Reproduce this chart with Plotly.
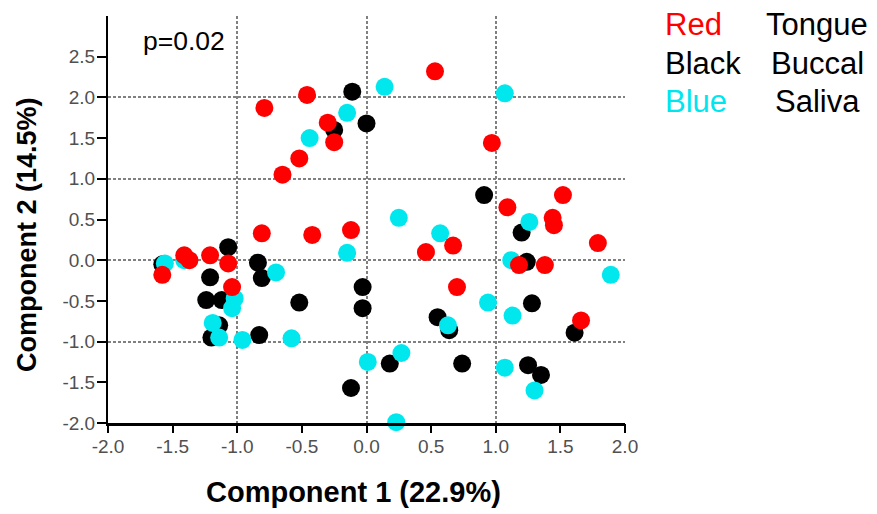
import plotly.graph_objects as go

# ---- data ----
tongue_x = [-0.79, -0.46, 0.53, -0.30, -0.25, -0.52, -0.65, 0.97, 1.52, 1.09, 1.44, 1.45, 1.79,
            -0.81, -0.42, -0.12, 0.46, 0.67, 1.18, 1.38, 0.70, 1.66, -1.58, -1.41, -1.37, -1.21,
            -1.07, -1.04]
tongue_y = [1.87, 2.03, 2.32, 1.69, 1.45, 1.25, 1.05, 1.44, 0.80, 0.65, 0.52, 0.43, 0.21,
            0.33, 0.31, 0.37, 0.10, 0.18, -0.06, -0.06, -0.33, -0.74, -0.18, 0.06, 0.00, 0.06,
            -0.04, -0.33]

buccal_x = [-0.11, -0.25, 0.00, 0.91, 1.20, 1.24, 1.28, 0.55, 0.64, 1.61, 0.74, 1.25, 1.35,
            -0.03, -0.03, -0.52, 0.18, -0.12, -1.07, -1.21, -0.84, -0.81, -1.24, -1.12, -1.14,
            -1.20, -0.83, -1.58]
buccal_y = [2.07, 1.60, 1.68, 0.80, 0.34, -0.02, -0.53, -0.70, -0.86, -0.89, -1.27, -1.29, -1.41,
            -0.33, -0.59, -0.52, -1.27, -1.57, 0.16, -0.21, -0.03, -0.22, -0.49, -0.49, -0.80,
            -0.95, -0.92, -0.05]

saliva_x = [0.14, -0.15, -0.44, 1.07, 0.25, 0.57, 1.26, -0.15, 1.12, 1.89, -1.56, -0.70, -1.02,
            -1.04, -1.19, -1.14, -0.96, -0.58, 0.94, 1.13, 0.63, 0.01, 0.27, 1.07, 1.30, 0.23,
            -1.41]
saliva_y = [2.13, 1.81, 1.50, 2.05, 0.52, 0.33, 0.47, 0.09, 0.00, -0.18, -0.04, -0.15, -0.47,
            -0.59, -0.77, -0.95, -0.98, -0.96, -0.52, -0.68, -0.80, -1.25, -1.14, -1.32, -1.60, -1.99,
            0.00]

tick_vals = [-2.0, -1.5, -1.0, -0.5, 0.0, 0.5, 1.0, 1.5, 2.0]
y_tick_vals = [-2.0, -1.5, -1.0, -0.5, 0.0, 0.5, 1.0, 1.5, 2.0, 2.5]
grid_vals = [-1, 0, 1, 2]

legend_colors = ["Red", "Black", "Blue"]
legend_groups = ["Tongue", "Buccal", "Saliva"]
legend_font_colors = ["#ff0000", "#000000", "#00e5ee"]

p_text = "p=0.02"
x_title = "Component 1 (22.9%)"
y_title = "Component 2 (14.5%)"

# ---- layout geometry (screen px; page body has an 8px margin) ----
O = 8
W, H = 877 - O, 514 - O
L, R, T, B = 108, 625, 16, 423          # plot area in screen px
pw, ph = R - L, B - T


def px(xp):
    return (xp - L) / pw


def py(yp):
    return (B - yp) / ph


fig = go.Figure()
mk = dict(size=18, line=dict(width=0))
fig.add_trace(go.Scatter(x=buccal_x, y=buccal_y, mode="markers", name="Buccal",
                         marker=dict(color="#000000", **mk), cliponaxis=False))
fig.add_trace(go.Scatter(x=saliva_x, y=saliva_y, mode="markers", name="Saliva",
                         marker=dict(color="#00e8ee", **mk), cliponaxis=False))
fig.add_trace(go.Scatter(x=tongue_x, y=tongue_y, mode="markers", name="Tongue",
                         marker=dict(color="#ff0000", **mk), cliponaxis=False))
# empty helper trace so the labelled overlay axes get drawn
fig.add_trace(go.Scatter(x=[None], y=[None], xaxis="x2", yaxis="y2", mode="markers",
                         showlegend=False, hoverinfo="skip"))

tickfont = dict(family="Liberation Sans, Arial, sans-serif", size=19, color="#505050")
grid = dict(showgrid=True, gridcolor="#808080", gridwidth=1.5, griddash="3px,2px",
            showticklabels=False, ticks="", zeroline=False)

fig.update_layout(
    width=W, height=H, autosize=False,
    font=dict(family="Liberation Sans, Arial, sans-serif", size=19, color="#505050"),
    margin=dict(l=L - O, r=877 - R, t=T - O, b=514 - B, pad=0),
    paper_bgcolor="white", plot_bgcolor="white",
    showlegend=False,
    xaxis=dict(range=[-2, 2], tickvals=grid_vals, showline=True, linecolor="#000000",
               linewidth=3, mirror=False, **grid),
    yaxis=dict(range=[-2, 3], tickvals=grid_vals, showline=True, linecolor="#000000",
               linewidth=2, mirror=False, **grid),
    xaxis2=dict(range=[-2, 2], overlaying="x", anchor="y2", side="bottom",
                tickmode="array", tickvals=tick_vals, ticktext=[f"{v:.1f}" for v in tick_vals],
                ticks="outside", ticklen=9, tickwidth=2, tickcolor="#000000",
                ticklabelstandoff=-3, showticklabels=True,
                showgrid=False, zeroline=False, showline=False, tickfont=tickfont),
    yaxis2=dict(range=[-2, 3], overlaying="y", anchor="x2", side="left",
                tickmode="array", tickvals=y_tick_vals, ticktext=[f"{v:.1f}" for v in y_tick_vals],
                ticks="outside", ticklen=10, tickwidth=2, tickcolor="#000000",
                ticklabelstandoff=-2, showticklabels=True,
                showgrid=False, zeroline=False, showline=False, tickfont=tickfont),
)

ann = []
ann.append(dict(text=p_text, x=px(184), y=py(41), xref="paper", yref="paper",
                showarrow=False, xanchor="center", yanchor="middle",
                font=dict(family="Arial, Liberation Sans", size=26.5, color="#000000")))
ann.append(dict(text=f"<b>{x_title}</b>", x=px(353), y=py(492), xref="paper", yref="paper",
                showarrow=False, xanchor="center", yanchor="middle",
                font=dict(family="Arial, Liberation Sans", size=29, color="#000000")))
ann.append(dict(text=f"<b>{y_title}</b>", x=px(27), y=py(235), xref="paper", yref="paper",
                showarrow=False, xanchor="center", yanchor="middle", textangle=-90,
                font=dict(family="Arial, Liberation Sans", size=27, color="#000000")))
row_y = [24, 63, 101]
for c, g, fc, ry in zip(legend_colors, legend_groups, legend_font_colors, row_y):
    ann.append(dict(text=c, x=px(663), y=py(ry), xref="paper", yref="paper",
                    showarrow=False, xanchor="left", yanchor="middle",
                    font=dict(family="Arial, Liberation Sans", size=31, color=fc)))
    ann.append(dict(text=g, x=px(817), y=py(ry), xref="paper", yref="paper",
                    showarrow=False, xanchor="center", yanchor="middle",
                    font=dict(family="Arial, Liberation Sans", size=31, color="#000000")))
fig.update_layout(annotations=ann)

fig.write_html("out.html")
